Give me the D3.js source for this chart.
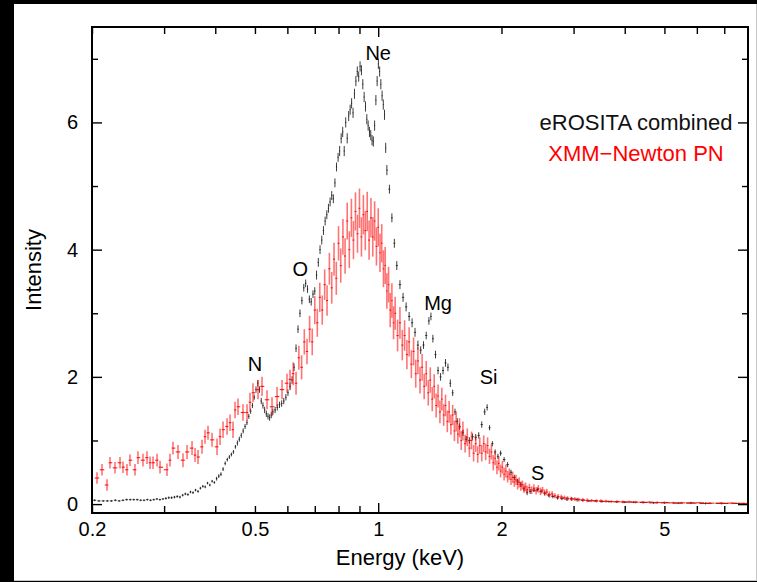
<!DOCTYPE html>
<html><head><meta charset="utf-8">
<script src="https://cdn.jsdelivr.net/npm/d3@7"></script>
<style>
html,body{margin:0;padding:0;background:#000;overflow:hidden;}
svg{display:block;}
</style></head><body>
<svg id="chart" width="757" height="582"></svg>
<script>
// ---- eROSITA combined (black) ----
const eroE = [
0.203,0.208,0.213,0.218,0.223,0.228,0.233,0.238,0.243,0.248,0.253,0.258,0.263,0.268,0.273,0.278,0.283,0.288,0.293,0.298,
0.303,0.308,0.313,0.318,0.323,0.328,0.333,0.338,0.343,0.348,0.353,0.358,0.363,0.368,0.373,0.378,0.383,0.388,0.393,0.398,
0.403,0.408,0.413,0.418,0.423,0.428,0.433,0.438,0.443,0.448,0.453,0.458,0.463,0.468,0.473,0.478,0.483,0.488,0.493,0.498,
0.503,0.508,0.513,0.518,0.523,0.528,0.533,0.538,0.543,0.548,0.553,
0.560,0.567,0.574,0.581,0.588,0.595,0.602,
0.609,0.616,0.623,0.630,0.637,0.644,0.651,0.658,0.665,0.672,0.679,0.686,0.693,0.700,
0.707,0.714,0.721,0.728,0.735,0.742,0.749,0.756,0.763,0.770,0.777,0.784,0.791,0.798,
0.805,0.812,0.819,0.826,0.833,0.840,0.847,0.854,0.861,0.868,0.875,0.882,0.889,0.896,
0.903,0.910,0.917,0.924,0.931,0.938,0.945,0.952,0.959,0.966,0.973,0.980,0.987,0.994,
1.001,1.008,1.015,1.022,1.029,1.036,1.043,1.050,
1.065,1.080,1.095,1.110,1.130,1.150,1.170,1.190,1.210,1.230,1.250,
1.270,1.290,1.310,1.330,1.345,1.360,1.380,1.400,1.420,1.440,1.460,1.480,1.500,
1.520,1.540,1.560,1.580,1.610,1.640,1.670,1.700,1.730,1.760,1.790,1.820,1.845,
1.870,1.900,1.930,1.960,1.990,2.030,2.070,2.110,2.150,2.190,2.230,2.270,2.310,2.350,
2.400,2.450,2.500,2.550,2.610,2.670,2.740,2.810,2.890,2.970,3.060,
3.160,3.270,3.390,3.520,3.660,3.820,4.000,4.200,4.450,4.700,5.000,5.400,5.800,6.300,6.900,7.600];
const eroI = [
0.06,0.05,0.05,0.05,0.05,0.06,0.05,0.06,0.07,0.07,0.07,0.07,0.06,0.06,0.07,0.06,0.07,0.08,0.07,0.08,
0.09,0.10,0.10,0.11,0.12,0.11,0.14,0.16,0.15,0.19,0.18,0.22,0.20,0.25,0.28,0.27,0.33,0.30,0.36,0.34,
0.40,0.44,0.47,0.55,0.64,0.70,0.74,0.78,0.82,0.90,0.96,1.02,1.08,1.15,1.22,1.28,1.38,1.46,1.55,1.68,
1.80,1.90,1.80,1.62,1.55,1.48,1.42,1.38,1.36,1.40,1.45,
1.48,1.52,1.56,1.58,1.62,1.68,1.75,
1.85,1.95,2.15,2.45,2.75,3.00,3.20,3.40,3.47,3.38,3.22,3.18,3.30,3.35,
3.60,3.80,4.00,4.15,4.30,4.45,4.55,4.65,4.75,4.85,4.80,5.05,5.30,5.45,
5.55,5.75,5.85,5.55,6.00,5.75,6.10,6.20,6.30,6.15,6.45,6.65,6.80,6.72,
6.88,6.82,6.60,6.40,6.25,6.05,5.95,5.85,5.80,5.72,5.70,5.95,6.35,6.65,
6.92,6.80,6.60,6.42,6.28,6.12,5.60,5.25,
4.95,4.50,4.10,3.75,3.45,3.25,3.10,2.95,2.85,2.70,2.50,
2.42,2.50,2.65,2.88,2.95,2.60,2.35,2.10,2.00,2.10,2.22,2.15,1.90,
1.75,1.45,1.30,1.22,1.12,1.02,1.00,1.06,1.05,1.08,1.25,1.45,1.52,
1.20,0.95,0.82,0.75,0.80,0.70,0.62,0.50,0.42,0.36,0.31,0.24,0.18,0.20,
0.22,0.23,0.20,0.17,0.14,0.12,0.10,0.09,0.08,0.08,0.07,
0.06,0.05,0.05,0.04,0.04,0.035,0.03,0.03,0.025,0.02,0.02,0.015,0.015,0.01,0.01,0.01];
const eroErr = [
0.015,0.015,0.015,0.015,0.015,0.015,0.015,0.015,0.015,0.015,0.015,0.015,0.015,0.015,0.015,0.015,0.015,0.015,0.015,0.015,
0.02,0.02,0.02,0.02,0.02,0.02,0.02,0.02,0.02,0.02,0.02,0.02,0.02,0.02,0.02,0.02,0.02,0.02,0.02,0.02,
0.03,0.03,0.03,0.03,0.03,0.03,0.03,0.03,0.03,0.03,0.04,0.04,0.04,0.04,0.04,0.04,0.04,0.04,0.04,0.04,
0.05,0.05,0.05,0.05,0.05,0.05,0.05,0.05,0.05,0.05,0.05,
0.05,0.05,0.05,0.05,0.05,0.05,0.05,
0.06,0.06,0.06,0.06,0.06,0.06,0.06,0.06,0.06,0.06,0.06,0.06,0.06,0.06,
0.07,0.07,0.07,0.07,0.07,0.07,0.07,0.07,0.07,0.07,0.07,0.07,0.07,0.07,
0.08,0.08,0.08,0.08,0.08,0.08,0.08,0.08,0.08,0.08,0.08,0.08,0.08,0.08,
0.08,0.08,0.08,0.08,0.08,0.08,0.08,0.08,0.08,0.08,0.08,0.08,0.08,0.08,
0.08,0.08,0.08,0.08,0.08,0.08,0.08,0.08,
0.07,0.07,0.07,0.07,0.07,0.07,0.07,0.07,0.07,0.07,0.07,
0.06,0.06,0.06,0.06,0.06,0.06,0.06,0.06,0.06,0.06,0.06,0.06,0.06,
0.05,0.05,0.05,0.05,0.05,0.05,0.05,0.05,0.05,0.05,0.05,0.05,0.05,
0.04,0.04,0.04,0.04,0.04,0.04,0.04,0.04,0.04,0.04,0.04,0.04,0.04,0.04,
0.03,0.03,0.03,0.03,0.03,0.03,0.03,0.03,0.03,0.03,0.03,
0.015,0.015,0.015,0.015,0.015,0.015,0.015,0.015,0.015,0.015,0.015,0.015,0.015,0.015,0.015,0.015];

// ---- XMM-Newton PN (red) ----
const pnE = [
0.2057,0.2116,0.2176,0.2213,0.2276,0.2341,0.2381,0.2435,0.2476,0.2547,
0.2590,0.2664,0.2725,0.2772,0.2819,0.2883,0.2932,0.3049,0.3101,0.3153,
0.3244,0.3336,0.3413,0.3510,0.3570,0.3630,0.3713,0.3776,0.3840,0.3928,
0.4040,0.4109,0.4179,0.4274,0.4347,0.4420,0.4470,0.4546,0.4675,0.4782,
0.4863,0.4946,0.5087,0.5203,0.5351,0.5504,0.5661,0.5822,0.5988,0.6090,
0.620,0.630,0.640,0.650,0.660,0.670,0.680,0.690,0.700,0.710,0.720,0.730,0.740,0.750,0.760,0.770,0.780,0.790,0.800,0.810,
0.820,0.830,0.840,0.850,0.860,0.870,0.880,0.890,0.900,0.910,0.920,0.930,0.940,0.950,0.960,0.970,0.980,0.990,1.000,1.010,
1.020,1.030,1.040,1.050,1.060,1.070,1.080,1.090,1.100,
1.115,1.130,1.145,1.160,1.175,1.190,1.205,1.220,1.235,1.250,1.265,1.280,1.295,1.310,1.325,1.340,1.355,1.370,1.385,1.400,
1.415,1.430,1.445,1.460,1.475,1.490,1.505,1.520,1.535,1.550,1.565,1.580,1.595,
1.610,1.630,1.650,1.670,1.690,1.710,1.730,1.750,1.770,1.790,1.810,1.830,1.850,1.870,1.890,1.910,1.930,1.950,1.970,1.990,
2.010,2.030,2.050,2.070,2.090,2.110,2.130,2.150,2.170,2.190,2.210,2.230,2.250,2.270,2.290,2.310,
2.340,2.370,2.400,2.430,2.460,2.490,2.520,2.550,2.580,
2.620,2.660,2.700,2.750,2.800,2.850,2.900,2.960,3.020,3.090,3.160,3.240,3.320,3.410,3.500,3.600,3.710,3.830,3.960,4.100,
4.250,4.420,4.600,4.800,5.000,5.250,5.500,5.800,6.100,6.450,6.850,7.300,7.800];
const pnI = [
0.41,0.54,0.30,0.65,0.57,0.65,0.58,0.54,0.69,0.54,
0.73,0.69,0.73,0.65,0.65,0.69,0.58,0.54,0.69,0.88,
0.82,0.69,0.82,0.88,0.77,0.74,0.90,1.06,1.12,1.01,
0.90,1.06,1.17,1.22,1.28,1.17,1.48,1.53,1.44,1.44,
1.60,1.75,1.80,1.85,1.64,1.53,1.69,1.80,1.90,1.96,
2.05,1.90,2.30,2.15,2.55,2.40,2.75,2.55,3.05,2.85,3.25,3.05,3.45,3.20,3.70,3.40,3.85,3.55,4.10,3.75,
4.20,3.90,4.45,4.00,4.50,4.15,4.60,4.25,4.65,4.20,4.55,4.30,4.60,4.15,4.50,4.20,4.45,4.05,4.35,3.95,
4.10,3.70,3.75,3.35,3.45,3.05,3.20,2.85,3.00,
2.65,2.85,2.50,2.65,2.35,2.55,2.20,2.40,2.05,2.25,1.95,2.15,1.85,2.05,1.75,1.95,1.65,1.85,1.55,1.70,
1.45,1.65,1.40,1.55,1.30,1.45,1.25,1.40,1.15,1.30,1.10,1.20,1.00,
1.15,0.95,1.05,0.88,1.00,0.80,0.95,0.78,0.92,0.80,0.95,0.82,0.92,0.75,0.82,0.65,0.72,0.58,0.64,0.52,
0.58,0.47,0.52,0.43,0.47,0.39,0.42,0.35,0.38,0.31,0.34,0.28,0.30,0.25,0.27,0.23,
0.26,0.22,0.25,0.21,0.24,0.20,0.22,0.18,0.19,
0.15,0.16,0.13,0.12,0.11,0.10,0.09,0.085,0.08,0.07,0.065,0.06,0.055,0.05,0.05,0.045,0.04,0.04,0.035,0.035,
0.03,0.03,0.03,0.025,0.025,0.02,0.02,0.02,0.02,0.015,0.015,0.015,0.01];
const pnErr = [
0.09,0.09,0.09,0.09,0.09,0.09,0.09,0.09,0.09,0.09,
0.10,0.10,0.10,0.10,0.10,0.10,0.10,0.10,0.10,0.10,
0.11,0.11,0.11,0.11,0.11,0.11,0.11,0.11,0.11,0.11,
0.13,0.13,0.13,0.13,0.13,0.13,0.13,0.13,0.13,0.13,
0.15,0.15,0.15,0.15,0.15,0.15,0.15,0.15,0.15,0.15,
0.18,0.18,0.19,0.19,0.20,0.20,0.21,0.21,0.22,0.22,0.23,0.23,0.24,0.24,0.25,0.25,0.26,0.26,0.27,0.27,
0.28,0.28,0.29,0.29,0.30,0.30,0.30,0.30,0.31,0.31,0.31,0.31,0.31,0.31,0.31,0.31,0.31,0.30,0.30,0.30,
0.30,0.29,0.29,0.28,0.28,0.27,0.27,0.26,0.26,
0.25,0.25,0.24,0.24,0.23,0.23,0.22,0.22,0.22,0.21,0.21,0.21,0.20,0.20,0.20,0.20,0.19,0.19,0.19,0.18,
0.18,0.18,0.17,0.17,0.17,0.17,0.16,0.16,0.16,0.16,0.15,0.15,0.15,
0.15,0.14,0.14,0.14,0.14,0.13,0.13,0.13,0.13,0.13,0.13,0.13,0.13,0.12,0.12,0.12,0.11,0.11,0.11,0.10,
0.10,0.10,0.10,0.09,0.09,0.09,0.09,0.08,0.08,0.08,0.08,0.07,0.07,0.07,0.07,0.06,
0.06,0.06,0.06,0.06,0.06,0.06,0.05,0.05,0.05,
0.05,0.04,0.04,0.04,0.04,0.035,0.035,0.03,0.03,0.03,0.03,0.03,0.025,0.025,0.025,0.025,0.02,0.02,0.02,0.02,
0.02,0.02,0.02,0.02,0.015,0.015,0.015,0.015,0.015,0.015,0.015,0.015,0.015];

// ---- axes / labels ----
const xLabeledTicks = [0.2, 0.5, 1, 2, 5];
const xMajorTicks = [1];
const xMinorTicks = [0.2, 0.3, 0.4, 0.5, 0.6, 0.7, 0.8, 0.9, 2, 3, 4, 5, 6, 7];
const yMajorTicks = [0, 2, 4, 6];
const yMinorTicks = [1, 3, 5, 7];
const lineNames = ["N", "O", "Ne", "Mg", "Si", "S"];
const lineEnergy = [0.50, 0.645, 1.0, 1.40, 1.86, 2.45];
const lineLevel = [2.21, 3.70, 7.10, 3.17, 2.00, 0.49];
const legendNames = ["eROSITA combined", "XMM\u2212Newton PN"];
const legendColors = ["#111", "#ff0000"];
const xTitle = "Energy (keV)";
const yTitle = "Intensity";

const W = 757, H = 582;
const M = {left: 92, right: 748, top: 27, bottom: 513};
const FONT = "'Liberation Sans', Arial, Helvetica, sans-serif";

const svg = d3.select("#chart");
svg.append("rect").attr("x", 0).attr("y", 0).attr("width", W).attr("height", H).attr("fill", "#000");
svg.append("rect").attr("x", 14).attr("y", 4).attr("width", W - 14).attr("height", 576)
  .attr("fill", "#fff");
svg.append("line").attr("x1", 14).attr("x2", W).attr("y1", 580.5).attr("y2", 580.5).attr("stroke", "#c8c8c8");
svg.append("line").attr("x1", 756.5).attr("x2", 756.5).attr("y1", 4).attr("y2", 581).attr("stroke", "#c8c8c8");

const x = d3.scaleLog().domain([0.2, 8]).range([M.left, M.right]);
const y = d3.scaleLinear().domain([-0.14, 7.5]).range([M.bottom, M.top]);

const plot = svg.append("g");
plot.append("clipPath").attr("id", "clip").append("rect")
  .attr("x", M.left).attr("y", M.top).attr("width", M.right - M.left).attr("height", M.bottom - M.top);

function series(E, I, Err, hScale) {
  const n = Math.min(E.length, I.length, Err.length);
  const pts = [];
  for (let i = 0; i < n; i++) {
    const prev = i > 0 ? E[i - 1] : E[i] * E[i] / E[i + 1];
    const next = i < n - 1 ? E[i + 1] : E[i] * E[i] / E[i - 1];
    const lo = Math.sqrt(prev * E[i]), hi = Math.sqrt(E[i] * next);
    const xl = x(E[i]) - (x(E[i]) - x(lo)) * hScale;
    const xh = x(E[i]) + (x(hi) - x(E[i])) * hScale;
    pts.push({e: E[i], v: I[i], err: Err[i], xl, xh});
  }
  return pts;
}

const ero = series(eroE, eroI, eroErr, 0.75);
const pn = series(pnE, pnI, pnErr, 0.9);

const gData = plot.append("g").attr("clip-path", "url(#clip)");

// black series
const gEro = gData.append("g").attr("stroke", "#1a1a1a").attr("stroke-width", 1).attr("stroke-opacity", 0.85);
gEro.selectAll("line.v").data(ero).join("line").attr("class", "v")
  .attr("x1", d => x(d.e)).attr("x2", d => x(d.e))
  .attr("y1", d => y(d.v - d.err)).attr("y2", d => y(d.v + d.err));
gEro.selectAll("line.h").data(ero).join("line").attr("class", "h")
  .attr("x1", d => d.xl).attr("x2", d => d.xh)
  .attr("y1", d => y(d.v)).attr("y2", d => y(d.v));

// red series
const gPn = gData.append("g").attr("stroke", "#ff0000").attr("stroke-width", 1.6);
gPn.selectAll("line.v").data(pn).join("line").attr("class", "v")
  .attr("stroke-opacity", 0.55)
  .attr("x1", d => x(d.e)).attr("x2", d => x(d.e))
  .attr("y1", d => y(d.v - d.err)).attr("y2", d => y(d.v + d.err));
gPn.selectAll("line.h").data(pn).join("line").attr("class", "h")
  .attr("stroke-opacity", 0.9).attr("stroke-width", 1.1)
  .attr("x1", d => d.xl).attr("x2", d => d.xh)
  .attr("y1", d => y(d.v)).attr("y2", d => y(d.v));

// axes
function styleAxis(g) {
  g.select(".domain").remove();
  g.selectAll(".tick line").attr("stroke", "#000").attr("stroke-width", 1.4);
  g.selectAll(".tick text").attr("font-family", FONT).attr("font-size", 20).attr("fill", "#000");
}
const fmt = d => String(d);
// bottom labels + minor ticks
svg.append("g").attr("transform", `translate(0,${M.bottom})`)
  .call(d3.axisBottom(x).tickValues(xMinorTicks).tickSizeInner(-7).tickSizeOuter(0).tickFormat(""))
  .call(styleAxis);
svg.append("g").attr("transform", `translate(0,${M.bottom})`)
  .call(d3.axisBottom(x).tickValues(xMajorTicks).tickSizeInner(-10).tickSizeOuter(0).tickFormat(""))
  .call(styleAxis);
svg.append("g").attr("transform", `translate(0,${M.bottom})`)
  .call(d3.axisBottom(x).tickValues(xLabeledTicks).tickSizeInner(0).tickSizeOuter(0).tickPadding(9).tickFormat(fmt))
  .call(styleAxis);
// top ticks
svg.append("g").attr("transform", `translate(0,${M.top})`)
  .call(d3.axisTop(x).tickValues(xMinorTicks).tickSizeInner(-7).tickSizeOuter(0).tickFormat(""))
  .call(styleAxis);
svg.append("g").attr("transform", `translate(0,${M.top})`)
  .call(d3.axisTop(x).tickValues(xMajorTicks).tickSizeInner(-10).tickSizeOuter(0).tickFormat(""))
  .call(styleAxis);
// left
svg.append("g").attr("transform", `translate(${M.left},0)`)
  .call(d3.axisLeft(y).tickValues(yMajorTicks).tickSizeInner(-10).tickSizeOuter(0).tickPadding(14).tickFormat(fmt))
  .call(styleAxis);
svg.append("g").attr("transform", `translate(${M.left},0)`)
  .call(d3.axisLeft(y).tickValues(yMinorTicks).tickSizeInner(-6).tickSizeOuter(0).tickFormat(""))
  .call(styleAxis);
// right
svg.append("g").attr("transform", `translate(${M.right},0)`)
  .call(d3.axisRight(y).tickValues(yMajorTicks).tickSizeInner(-10).tickSizeOuter(0).tickFormat(""))
  .call(styleAxis);
svg.append("g").attr("transform", `translate(${M.right},0)`)
  .call(d3.axisRight(y).tickValues(yMinorTicks).tickSizeInner(-6).tickSizeOuter(0).tickFormat(""))
  .call(styleAxis);

// frame
svg.append("rect").attr("x", M.left).attr("y", M.top)
  .attr("width", M.right - M.left).attr("height", M.bottom - M.top)
  .attr("fill", "none").attr("stroke", "#000").attr("stroke-width", 2);

// titles
svg.append("text").attr("x", 400).attr("y", 565)
  .attr("text-anchor", "middle").attr("font-family", FONT).attr("font-size", 22).text(xTitle);
svg.append("text").attr("transform", `translate(41,${(M.top + M.bottom) / 2}) rotate(-90)`)
  .attr("text-anchor", "middle").attr("font-family", FONT).attr("font-size", 22).text(yTitle);

// element labels
svg.append("g").selectAll("text").data(lineNames).join("text")
  .attr("x", (d, i) => x(lineEnergy[i])).attr("y", (d, i) => y(lineLevel[i]))
  .attr("dy", "0.36em").attr("text-anchor", "middle")
  .attr("font-family", FONT).attr("font-size", 20).attr("fill", "#000").text(d => d);

// legend
svg.append("g").selectAll("text").data(legendNames).join("text")
  .attr("x", 636).attr("y", (d, i) => y(6) + i * 31)
  .attr("dy", "0.36em").attr("text-anchor", "middle")
  .attr("font-family", FONT).attr("font-size", 22).attr("fill", (d, i) => legendColors[i]).text(d => d);
</script>
</body></html>
